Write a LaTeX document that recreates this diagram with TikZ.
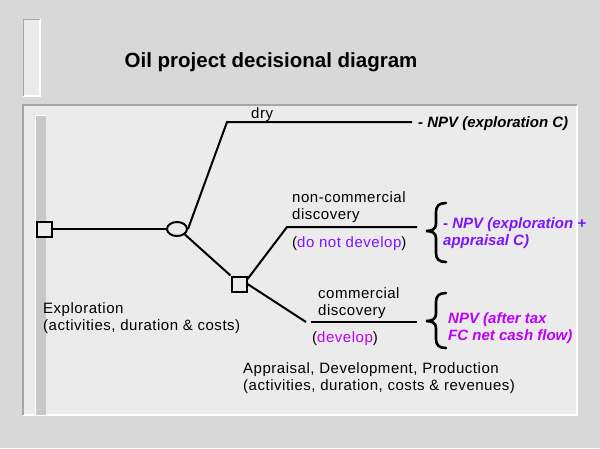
\documentclass[tikz,border=0pt]{standalone}
\usepackage{fontspec}
\setmainfont{Liberation Sans}
\newfontfamily\regfont[LetterSpace=3.5]{Liberation Sans}
\usetikzlibrary{shapes.geometric}
\definecolor{bgmarble}{RGB}{216,216,216}
\definecolor{panelgray}{RGB}{235,235,235}
\definecolor{stripgray}{RGB}{200,200,200}
\definecolor{pblue}{RGB}{125,20,255}
\definecolor{pmag}{RGB}{190,0,250}
\tikzset{
  txt/.style={inner sep=0pt, anchor=base west, align=left, font=\regfont\fontsize{15}{17}\selectfont},
  res/.style={inner sep=0pt, anchor=base west, align=left, font=\fontsize{15}{17}\selectfont\bfseries\itshape},
  branch/.style={line width=2pt, draw=black},
  decbox/.style={draw=black, line width=2pt, fill=panelgray, minimum width=15pt, minimum height=15pt, inner sep=0pt},
  chance/.style={ellipse, draw=black, line width=2pt, fill=panelgray, minimum width=20pt, minimum height=14pt, inner sep=0pt},
  bracestyle/.style={line width=2.6pt, draw=black, line cap=round}
}
\begin{document}
\begin{tikzpicture}[x=1pt,y=-1pt]
\useasboundingbox (0,0) rectangle (600,448);
% background
\fill[bgmarble] (0,0) rectangle (600,448);
\fill[panelgray] (23,19) rectangle (40,96);
\draw[white, line width=1.5pt] (40,19) -- (40,96) -- (23,96);
\draw[gray!70, line width=1pt] (23,96) -- (23,19) -- (40,19);
% panel
\fill[panelgray] (23,105) rectangle (577,415);
\draw[white, line width=1.5pt] (577,105) -- (577,415) -- (23,415);
\draw[gray!70, line width=1.2pt] (23,415) -- (23,105) -- (577,105);
\fill[stripgray] (35,115) rectangle (46,415);
\draw[white, line width=1pt] (35,415) -- (35,115) -- (46,115);
% title
\node[inner sep=0pt, anchor=base, font=\fontsize{20.5}{25}\selectfont\bfseries] (title) at (271,67) {Oil project decisional diagram};
% tree nodes
\node[decbox] (sq1) at (44,229) {};
\node[chance] (ell) at (177,229) {};
\node[decbox] (sq2) at (239,284) {};
\coordinate (dry1) at (227,122);
\coordinate (dry2) at (412,122);
\coordinate (nc1) at (287,227);
\coordinate (nc2) at (417,227);
\coordinate (cd1) at (306,322);
\coordinate (cd2) at (311,322);
\coordinate (cd3) at (417,322);
% connectors
\draw[branch] (sq1.east) -- (ell.west);
\draw[branch] (ell.east) -- (dry1) -- (dry2);
\draw[branch] (ell.-35) -- (sq2.north west);
\draw[branch] (sq2.30) -- (nc1) -- (nc2);
\draw[branch] (sq2.east) -- (cd1);
\draw[branch] (cd2) -- (cd3);
% labels (base = last line baseline)
\node[txt] (ldry) at (251,118) {dry};
\node[res] (rdry) at (418,127) {- NPV (exploration C)};
\node[txt] (lnc) at (292,219) {non-commercial\\discovery};
\node[txt] (lndd) at (292,247) {(\textcolor{pblue}{do not develop})};
\node[res, text=pblue] (rnc) at (443,245) {- NPV (exploration +\\appraisal C)};
\node[txt] (lcd) at (318,315) {commercial\\discovery};
\node[txt] (ldev) at (312,342) {(\textcolor{pmag}{develop})};
\node[res, text=pmag] (rcd) at (448,340) {NPV (after tax\\FC net cash flow)};
\node[txt] (lexp) at (43,330) {Exploration\\(activities, duration \& costs)};
\node[txt] (ladp) at (243,390) {Appraisal, Development, Production\\(activities, duration, costs \& revenues)};
% braces
\draw[bracestyle] (446,203) .. controls (439,203) and (436,206) .. (436,212) -- (436,224) .. controls (436,229) and (432,231) .. (426,231) .. controls (432,231) and (436,233) .. (436,238) -- (436,253) .. controls (436,259) and (439,262) .. (446,262);
\draw[bracestyle] (446,293) .. controls (439,293) and (436,296) .. (436,302) -- (436,314) .. controls (436,319) and (432,321) .. (426,321) .. controls (432,321) and (436,323) .. (436,328) -- (436,339) .. controls (436,345) and (439,348) .. (446,348);
\end{tikzpicture}
\end{document}
